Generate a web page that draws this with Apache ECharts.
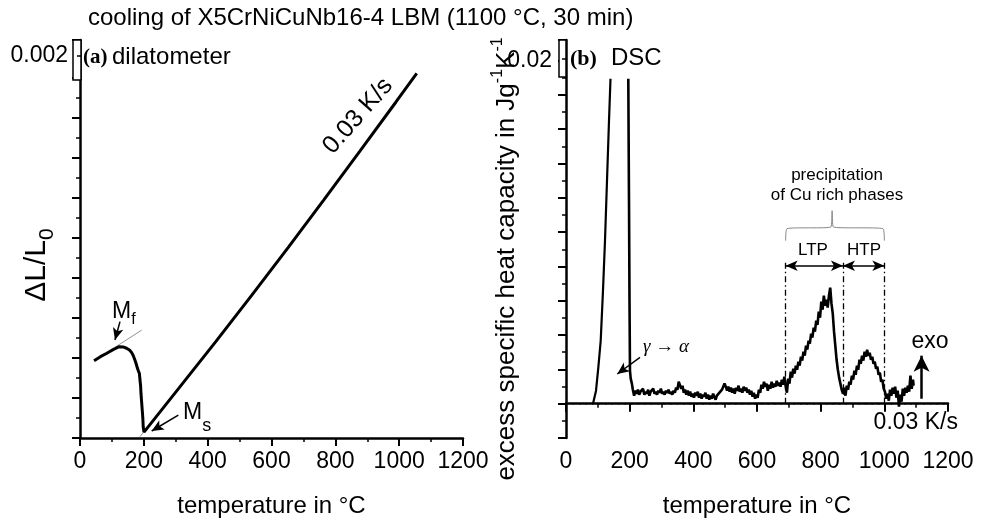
<!DOCTYPE html>
<html><head><meta charset="utf-8">
<script src="https://cdn.jsdelivr.net/npm/echarts@6/dist/echarts.min.js"></script>
<style>html,body{margin:0;padding:0;background:#fff}#c{width:988px;height:523px}</style>
</head><body><div id="c"></div>
<script>
// ---------- data ----------
const xTicks = [0, 200, 400, 600, 800, 1000, 1200];
const leftYLabels = [0.002];
const rightYLabels = [0.02];

// (a) dilatometer: temperature (°C) vs ΔL/L0
const dilatometer = [[44,0.000404],[64,0.000425],[84,0.000443],[105,0.000463],[123,0.000477],[135,0.000476],[146,0.000469],[155,0.00046],[162,0.000446],[167,0.00043],[172,0.000408],[176,0.000388],[180,0.000364],[183,0.00035],[186,0.000338],[188,0.000303],[190,0.00027],[191,0.000234],[193,0.00019],[195,0.000146],[197,0.0001],[198,0.000059],[200.5,0.000031],[313,0.000267],[426,0.000505],[539,0.000748],[652,0.000995],[764,0.001245],[877,0.001499],[990,0.001756],[1055,0.001906]];
const mfTangent = [[109.6,0.000474],[193.3,0.000564]];
const msTangent = [[188,0.000007],[209,0.000051]];
const mfArrow = [[125.3,0.000608],[109.6,0.000512]];
const msArrow = [[308,0.00012],[224.6,0.0000366]];

// (b) DSC: temperature (°C) vs excess specific heat capacity
const dscLeft = [[84.8,0],[94.3,0.00076],[101.5,0.0021],[109,0.00367],[116.2,0.00659],[122.5,0.0095],[128.8,0.013],[135.1,0.0165],[139.8,0.01894]];
const dscMain = [[195.7,0.01894],[197.9,0.01183],[199.5,0.006],[201,0.00192],[203.3,0.00146],[207,0.00117],
[210,0.000816],[214,0.000466],[218,0.000758],[222,0.000583],[226,0.000816],[230,0.000525],[234,0.0007],[238,0.000641],[242,0.000874],[246,0.000525],[250,0.0007],[254,0.000583],[258,0.000816],[262,0.000466],[266,0.0007],[270,0.000641],[274,0.000874],[278,0.000583],[282,0.0007],[286,0.000525],[290,0.000758],[294,0.000641],[298,0.000874],[302,0.000583],[306,0.0007],[310,0.000525],[314,0.000758],[318,0.000641],[322,0.000816],[326,0.000583],[330,0.0007],[334,0.000525],[338,0.000758],[342,0.000641],[346,0.000933],[350,0.000816],[354,0.00128],[358,0.00117],[362,0.000874],[366,0.00105],[370,0.000641],[374,0.000816],[378,0.000525],[382,0.000758],[386,0.000466],[390,0.0007],[394,0.000408],[398,0.000583],[402,0.00035],[406,0.000641],[410,0.000466],[414,0.0007],[418,0.00035],[422,0.000583],[426,0.000291],[430,0.000525],[434,0.000408],[438,0.000641],[442,0.000291],[446,0.000525],[450,0.000233],[454,0.000466],[458,0.000291],[462,0.000583],[466,0.000408],[470,0.000233],[474,0.000466],[478,0.00035],[482,0.000641],[486,0.000525],[490,0.000816],[494,0.0007],[498,0.00117],[502,0.000991],[506,0.000758],[510,0.000991],[514,0.0007],[518,0.000933],[522,0.000641],[526,0.000874],[530,0.000583],[534,0.000933],[538,0.000758],[542,0.00105],[546,0.0007],[550,0.000874],[554,0.000641],[558,0.000991],[562,0.000758],[566,0.000933],[570,0.000641],[574,0.000816],[578,0.000525],[582,0.000758],[586,0.000408],[590,0.000641],[594,0.000291],[598,0.000525],[602,0.00035],[606,0.000816],[610,0.000641],[614,0.00111],[618,0.000874],[622,0.00128],[626,0.000991],[630,0.00117],[634,0.000758],[638,0.00111],[642,0.000874],[646,0.00128],[650,0.000933],[654,0.00117],[658,0.000991],[662,0.00134],[666,0.00105],[670,0.00122],[674,0.000991],[678,0.0014],[682,0.00111],[686,0.00157],[690,0.00105],[694,0.000641],[698,0.00146],[702,0.00117],[706,0.00187],[710,0.00152],[714,0.00204],[718,0.00175],[722,0.00222],[726,0.00198],[730,0.00245],[734,0.00222],[738,0.00274],[742,0.00251],[746,0.00303],[750,0.0028],[754,0.00338],[758,0.00315],[762,0.00367],[766,0.0035],[770,0.00408],[774,0.00385],[778,0.00443],[782,0.0042],[786,0.00484],[790,0.0046],[794,0.00536],[798,0.00501],[802,0.00595],[806,0.00548],[810,0.0063],[814,0.00571],[818,0.00606],[822,0.0056],[826,0.0063],[830,0.00676],[834,0.00583],[838,0.00525],[842,0.0042],[846,0.00338],[850,0.00256],[854,0.00198],[858,0.00152],[862,0.00117],[866,0.000816],[870,0.000583],[874,0.000933],[878,0.000466],[882,0.00105],[886,0.000816],[890,0.00128],[894,0.00111],[898,0.00163],[902,0.0014],[906,0.00192],[910,0.00169],[914,0.00222],[918,0.00198],[922,0.00256],[926,0.00233],[930,0.0028],[934,0.00251],[938,0.00303],[942,0.00274],[946,0.00315],[950,0.0028],[954,0.00297],[958,0.00256],[962,0.00274],[966,0.00233],[970,0.00245],[974,0.00204],[978,0.00216],[982,0.00169],[986,0.00181],[990,0.00128],[994,0.0014],[998,0.000874],[1002,0.0007],[1006,0.000291],[1010,0.000583],[1014,0.000175],[1018,0.000816],[1022,0.000466],[1026,0.000933],[1030,0.000583],[1034,0.000991],[1038,0.00035],[1042,0.000758],[1046,-0.000175],[1050,0.000525],[1054,0.000117],[1058,0.000874],[1062,0.000466],[1066,0.000933],[1070,0.000641],[1074,0.00105],[1078,0.0007],[1082,0.00163],[1086,0.000874],[1090,0.0014],[1092,0.00105]];
const zeroLine = [[0,0],[1200,0]];
const phaseBounds = [690, 870, 1000];
const boundTop = 0.00834;
const rangeArrowY = 0.00804;
const brace = [[690,0.0095],[694,0.0102],[832,0.0103],[836,0.01125],[840,0.0103],[996,0.0102],[1000,0.0095]];
const exoArrow = [[1117,0.00029],[1117,0.0028]];
const gammaArrow = [[232.5,0.0027],[161,0.00173]];

// ---------- styling ----------
const SANS = '"Liberation Sans",Arial,sans-serif';
const SERIF = '"Liberation Serif","Times New Roman",serif';

function xAxis(gi) {
  return {
    type: 'value', gridIndex: gi, min: xTicks[0], max: xTicks[xTicks.length-1], interval: xTicks[1]-xTicks[0],
    axisLine: {show: true, lineStyle: {color: '#000', width: 2.5}},
    axisTick: {show: true, inside: false, length: 8, lineStyle: {color: '#000', width: 2}},
    minorTick: {show: true, splitNumber: 2, length: 4, lineStyle: {color: '#000', width: 1.5}},
    splitLine: {show: false},
    axisLabel: {color: '#000', fontSize: 23, fontFamily: SANS, margin: 12, showMaxLabel: true, showMinLabel: true,
      hideOverlap: false, formatter: v => String(v)},
    name: 'temperature in °C', nameLocation: 'middle', nameGap: 56, nameMoveOverlap: false,
    nameTextStyle: {color: '#000', fontSize: 24, fontFamily: SANS}
  };
}

const arrowML = (pts, sym) => ({
  silent: true, animation: false, symbol: sym, symbolSize: [8, 12],
  label: {show: false}, lineStyle: {color: '#000', width: 1.5, type: 'solid'},
  data: [[{coord: pts[0]}, {coord: pts[1]}]]
});

const option = {
  animation: false,
  backgroundColor: '#fff',
  grid: [
    {left: 80, top: 40, width: 383, height: 398, outerBoundsMode: 'none'},
    {left: 566, top: 40, width: 382, height: 398, outerBoundsMode: 'none'}
  ],
  xAxis: [xAxis(0), xAxis(1)],
  yAxis: [
    {
      type: 'value', gridIndex: 0, min: 0, max: 0.00208, interval: 0.000209,
      axisLine: {show: true, lineStyle: {color: '#000', width: 2.5}},
      axisTick: {show: true, length: 8, lineStyle: {color: '#000', width: 2}},
      minorTick: {show: true, splitNumber: 2, length: 4, lineStyle: {color: '#000', width: 1.5}},
      splitLine: {show: false},
      axisLabel: {customValues: leftYLabels, color: '#000', fontSize: 23, fontFamily: SANS, margin: 12, formatter: v => String(v)},
      name: '{a|ΔL/L}{s|0}', nameLocation: 'middle', nameGap: 22, nameRotate: 90, nameMoveOverlap: false,
      nameTextStyle: {padding: [0, 52, 0, 0], rich: {
        a: {fontSize: 30, fontFamily: SANS, color: '#000', lineHeight: 30, verticalAlign: 'top'},
        s: {fontSize: 21, fontFamily: SANS, color: '#000', lineHeight: 36, verticalAlign: 'bottom'}
      }}
    },
    {
      type: 'value', gridIndex: 1, min: -0.002, max: 0.0212, interval: 0.002,
      axisLine: {show: true, lineStyle: {color: '#000', width: 2.5}},
      axisTick: {show: true, length: 8, lineStyle: {color: '#000', width: 2}},
      minorTick: {show: true, splitNumber: 2, length: 4, lineStyle: {color: '#000', width: 1.5}},
      splitLine: {show: false},
      axisLabel: {customValues: rightYLabels, color: '#000', fontSize: 23, fontFamily: SANS, margin: 14, formatter: v => String(v)},
      name: '{a|excess specific heat capacity in Jg}{p|-1}{a|K}{p|-1}', nameLocation: 'middle', nameGap: 46, nameRotate: 90, nameMoveOverlap: false,
      nameTextStyle: {padding: [0, 40, 0, 0], rich: {
        a: {fontSize: 26, fontFamily: SANS, color: '#000', lineHeight: 30, verticalAlign: 'bottom'},
        p: {fontSize: 16, fontFamily: SANS, color: '#000', lineHeight: 16, verticalAlign: 'top'}
      }}
    }
  ],
  series: [
    {type: 'line', xAxisIndex: 0, yAxisIndex: 0, data: dilatometer, showSymbol: false, symbol: 'none',
     lineStyle: {color: '#000', width: 3}, z: 5},
    {type: 'line', xAxisIndex: 0, yAxisIndex: 0, data: mfTangent, symbol: 'none', lineStyle: {color: '#777', width: 0.8}},
    {type: 'line', xAxisIndex: 0, yAxisIndex: 0, data: msTangent, symbol: 'none', lineStyle: {color: '#777', width: 0.8}},
    {type: 'line', xAxisIndex: 0, yAxisIndex: 0, data: [], markLine: arrowML(mfArrow, ['none', 'arrow'])},
    {type: 'line', xAxisIndex: 0, yAxisIndex: 0, data: [], markLine: arrowML(msArrow, ['none', 'arrow'])},

    {type: 'line', xAxisIndex: 1, yAxisIndex: 1, data: zeroLine, symbol: 'none',
     lineStyle: {color: '#000', width: 1.5, type: [1.5, 5]}},
    {type: 'line', xAxisIndex: 1, yAxisIndex: 1, data: dscLeft, symbol: 'none', lineStyle: {color: '#000', width: 2.2}, z: 5},
    {type: 'line', xAxisIndex: 1, yAxisIndex: 1, data: dscMain, symbol: 'none', lineStyle: {color: '#000', width: 2.6}, z: 5},
    {type: 'line', xAxisIndex: 1, yAxisIndex: 1, data: [], markLine: {
      silent: true, symbol: 'none', label: {show: false},
      lineStyle: {color: '#000', width: 1.3, type: [6, 3, 1.5, 3]},
      data: phaseBounds.map(t => [{coord: [t, 0]}, {coord: [t, boundTop]}])
    }},
    {type: 'line', xAxisIndex: 1, yAxisIndex: 1, data: [], markLine: {
      silent: true, symbol: ['arrow', 'arrow'], symbolSize: [8, 12], label: {show: false},
      lineStyle: {color: '#000', width: 1.5, type: 'solid'},
      data: [[{coord: [phaseBounds[0], rangeArrowY]}, {coord: [phaseBounds[1], rangeArrowY]}],
             [{coord: [phaseBounds[1], rangeArrowY]}, {coord: [phaseBounds[2], rangeArrowY]}]]
    }},
    {type: 'line', xAxisIndex: 1, yAxisIndex: 1, data: brace, symbol: 'none', smooth: 0.3,
     lineStyle: {color: '#888', width: 1}},
    {type: 'line', xAxisIndex: 1, yAxisIndex: 1, data: [], markLine: Object.assign(arrowML(exoArrow, ['none', 'arrow']), {symbolSize: [12, 16], lineStyle: {color: '#000', width: 2.5, type: 'solid'}})},
    {type: 'line', xAxisIndex: 1, yAxisIndex: 1, data: [], markLine: arrowML(gammaArrow, ['none', 'arrow'])}
  ],
  graphic: [
    {type: 'text', x: 88, y: 18, style: {text: 'cooling of X5CrNiCuNb16-4 LBM (1100 °C, 30 min)', font: '24px ' + SANS, fill: '#000', textVerticalAlign: 'middle'}},
    // boxes at top of axes
    {type: 'rect', z: 100, shape: {x: 73, y: 40, width: 8, height: 40}, style: {fill: '#fff', stroke: '#000', lineWidth: 1.5}},
    {type: 'line', z: 101, shape: {x1: 77, y1: 56, x2: 81, y2: 56}, style: {stroke: '#000', lineWidth: 1.5}},
    {type: 'rect', z: 100, shape: {x: 559, y: 40, width: 7, height: 37}, style: {fill: '#fff', stroke: '#000', lineWidth: 1.5}},
    {type: 'line', z: 101, shape: {x1: 562, y1: 59, x2: 566, y2: 59}, style: {stroke: '#000', lineWidth: 1.5}},
    // panel labels
    {type: 'text', x: 83, y: 58, style: {text: '(a)', font: 'bold 21px ' + SERIF, fill: '#000', textVerticalAlign: 'middle'}},
    {type: 'text', x: 112, y: 57, style: {text: 'dilatometer', font: '24px ' + SANS, fill: '#000', textVerticalAlign: 'middle'}},
    {type: 'text', x: 570, y: 59, style: {text: '(b)', font: 'bold 22px ' + SERIF, fill: '#000', textVerticalAlign: 'middle'}},
    {type: 'text', x: 611, y: 58, style: {text: 'DSC', font: '24px ' + SANS, fill: '#000', textVerticalAlign: 'middle'}},
    // Mf / Ms
    {type: 'text', x: 112, y: 314, style: {text: '{m|M}{s|f}', textVerticalAlign: 'middle', rich: {
      m: {font: '23px ' + SANS, fill: '#000', lineHeight: 22, verticalAlign: 'top'},
      s: {font: '16px ' + SANS, fill: '#000', lineHeight: 28, verticalAlign: 'bottom'}}}},
    {type: 'text', x: 183, y: 418, style: {text: '{m|M}{s|s}', textVerticalAlign: 'middle', rich: {
      m: {font: '23px ' + SANS, fill: '#000', lineHeight: 22, verticalAlign: 'top'},
      s: {font: '18px ' + SANS, fill: '#000', lineHeight: 34, verticalAlign: 'bottom'}}}},
    {type: 'text', x: 358, y: 116, rotation: 48.6 * Math.PI / 180, style: {text: '0.03 K/s', font: '25px ' + SANS, fill: '#000', textAlign: 'center', textVerticalAlign: 'middle'}},
    // DSC annotations
    {type: 'text', x: 666, y: 347, style: {text: 'γ → α', font: 'italic 19px ' + SERIF, fill: '#000', textAlign: 'center', textVerticalAlign: 'middle'}},
    {type: 'text', x: 837, y: 175, style: {text: 'precipitation', font: '17px ' + SANS, fill: '#000', textAlign: 'center', textVerticalAlign: 'middle'}},
    {type: 'text', x: 837, y: 195, style: {text: 'of Cu rich phases', font: '17px ' + SANS, fill: '#000', textAlign: 'center', textVerticalAlign: 'middle'}},
    {type: 'text', x: 813, y: 250, style: {text: 'LTP', font: '17px ' + SANS, fill: '#000', textAlign: 'center', textVerticalAlign: 'middle'}},
    {type: 'text', x: 864, y: 250, style: {text: 'HTP', font: '17px ' + SANS, fill: '#000', textAlign: 'center', textVerticalAlign: 'middle'}},
    {type: 'text', x: 930, y: 342, style: {text: 'exo', font: '23px ' + SANS, fill: '#000', textAlign: 'center', textVerticalAlign: 'middle'}},
    {type: 'text', x: 958, y: 423, style: {text: '0.03 K/s', font: '23px ' + SANS, fill: '#000', textAlign: 'right', textVerticalAlign: 'middle'}}
  ]
};
const chart = echarts.init(document.getElementById('c'), null, {renderer: 'canvas'});
chart.setOption(option);
</script></body></html>
